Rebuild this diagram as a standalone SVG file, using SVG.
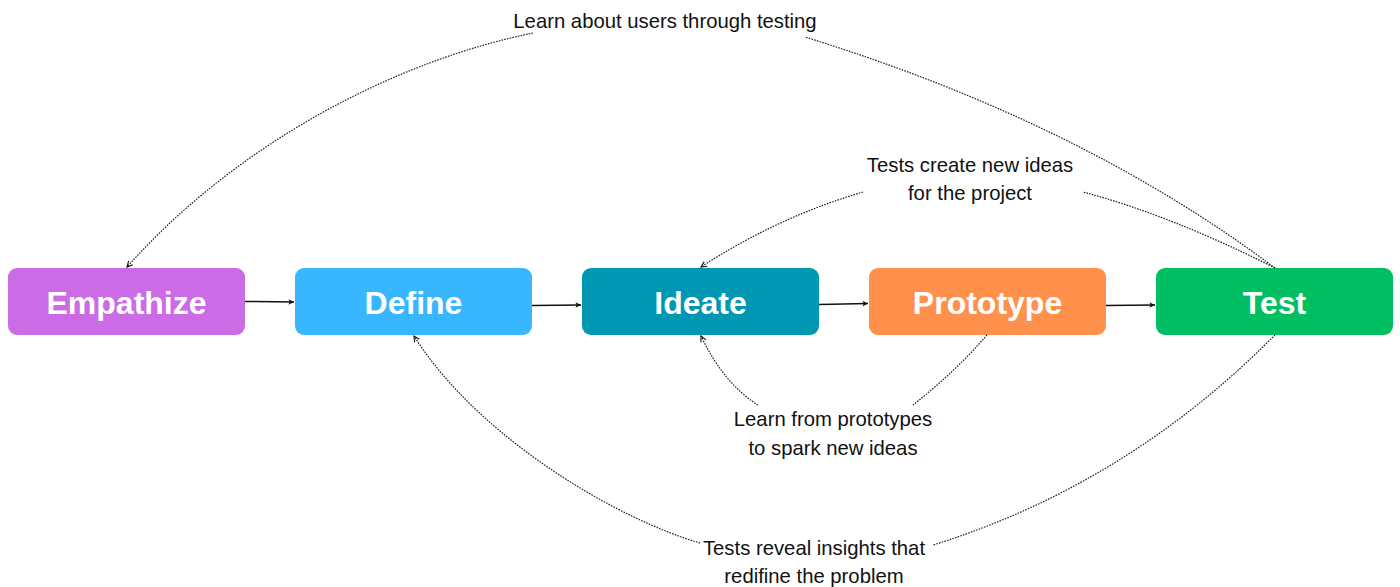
<svg xmlns="http://www.w3.org/2000/svg" width="1400" height="587" viewBox="0 0 1400 587">
  <defs>
    <marker id="arrow" viewBox="0 0 10 10" refX="9" refY="5" markerWidth="7" markerHeight="7" markerUnits="userSpaceOnUse" orient="auto">
      <path d="M1,1 L9,5 L1,9 L3,5 z" fill="#111"/>
    </marker>
    <marker id="arrow-dot" viewBox="0 0 10 10" refX="9" refY="5" markerWidth="7" markerHeight="7" markerUnits="userSpaceOnUse" orient="auto">
      <path d="M1,1 L9,5 L1,9" fill="none" stroke="#111" stroke-width="1.6"/>
    </marker>
  </defs>
  <style>
    .box { stroke: none; }
    .node-label { font-family: "Liberation Sans", Arial, Helvetica, sans-serif; font-weight: bold; font-size: 32px; fill: #ffffff; text-anchor: middle; }
    .flow { fill: none; stroke: #111; stroke-width: 1.5; }
    .loop { fill: none; stroke: #222; stroke-width: 1.2; stroke-dasharray: 1.6 1.2; }
    .note { font-family: "Liberation Sans", Arial, Helvetica, sans-serif; font-size: 20.3px; fill: #111; text-anchor: middle; }
  </style>

  <rect width="1400" height="587" fill="#ffffff"/>

  <!-- stage nodes -->
  <g id="empathize">
    <rect class="box" x="8" y="268" width="237" height="67" rx="9" fill="#CB6CE6"/>
    <text class="node-label" x="126.5" y="314">Empathize</text>
  </g>
  <g id="define">
    <rect class="box" x="295" y="268" width="237" height="67" rx="9" fill="#38B6FF"/>
    <text class="node-label" x="413.5" y="314">Define</text>
  </g>
  <g id="ideate">
    <rect class="box" x="582" y="268" width="237" height="67" rx="9" fill="#0097B2"/>
    <text class="node-label" x="700.5" y="314">Ideate</text>
  </g>
  <g id="prototype">
    <rect class="box" x="869" y="268" width="237" height="67" rx="9" fill="#FF914D"/>
    <text class="node-label" x="987.5" y="314">Prototype</text>
  </g>
  <g id="test">
    <rect class="box" x="1156" y="268" width="237" height="67" rx="9" fill="#00BF63"/>
    <text class="node-label" x="1274.5" y="314">Test</text>
  </g>

  <!-- connectors -->
  <g id="connectors">
    <!-- main sequence -->
    <path class="flow" d="M245,301.5 L294,302" marker-end="url(#arrow)"/>
    <path class="flow" d="M532,305.5 L581,305" marker-end="url(#arrow)"/>
    <path class="flow" d="M819,304.5 L868,303.5" marker-end="url(#arrow)"/>
    <path class="flow" d="M1106,305.5 L1155,305" marker-end="url(#arrow)"/>

    <!-- Test back to Empathize -->
    <path class="loop" d="M1275,268 Q1080,122 805,37"/>
    <path class="loop" d="M533,33 C400,60 240,140 127,267" marker-end="url(#arrow-dot)"/>

    <!-- Test back to Ideate -->
    <path class="loop" d="M1275,268 Q1170,215 1083,192"/>
    <path class="loop" d="M863,192 Q778,217 701,267" marker-end="url(#arrow-dot)"/>

    <!-- Prototype back to Ideate -->
    <path class="loop" d="M987,335 Q955,372 913,405"/>
    <path class="loop" d="M758,405 Q724,384 701,336" marker-end="url(#arrow-dot)"/>

    <!-- Test back to Define -->
    <path class="loop" d="M1275,335 C1220,390 1110,490 933,545"/>
    <path class="loop" d="M700,543 C620,520 480,440 414,336" marker-end="url(#arrow-dot)"/>
  </g>

  <!-- connector labels -->
  <g id="label-users">
    <text class="note" x="665" y="28">Learn about users through testing</text>
  </g>
  <g id="label-ideas">
    <text class="note" x="970" y="172">Tests create new ideas</text>
    <text class="note" x="970" y="200">for the project</text>
  </g>
  <g id="label-prototypes">
    <text class="note" x="833" y="426">Learn from prototypes</text>
    <text class="note" x="833" y="455">to spark new ideas</text>
  </g>
  <g id="label-insights">
    <text class="note" x="814" y="555">Tests reveal insights that</text>
    <text class="note" x="814" y="583">redifine the problem</text>
  </g>
</svg>
